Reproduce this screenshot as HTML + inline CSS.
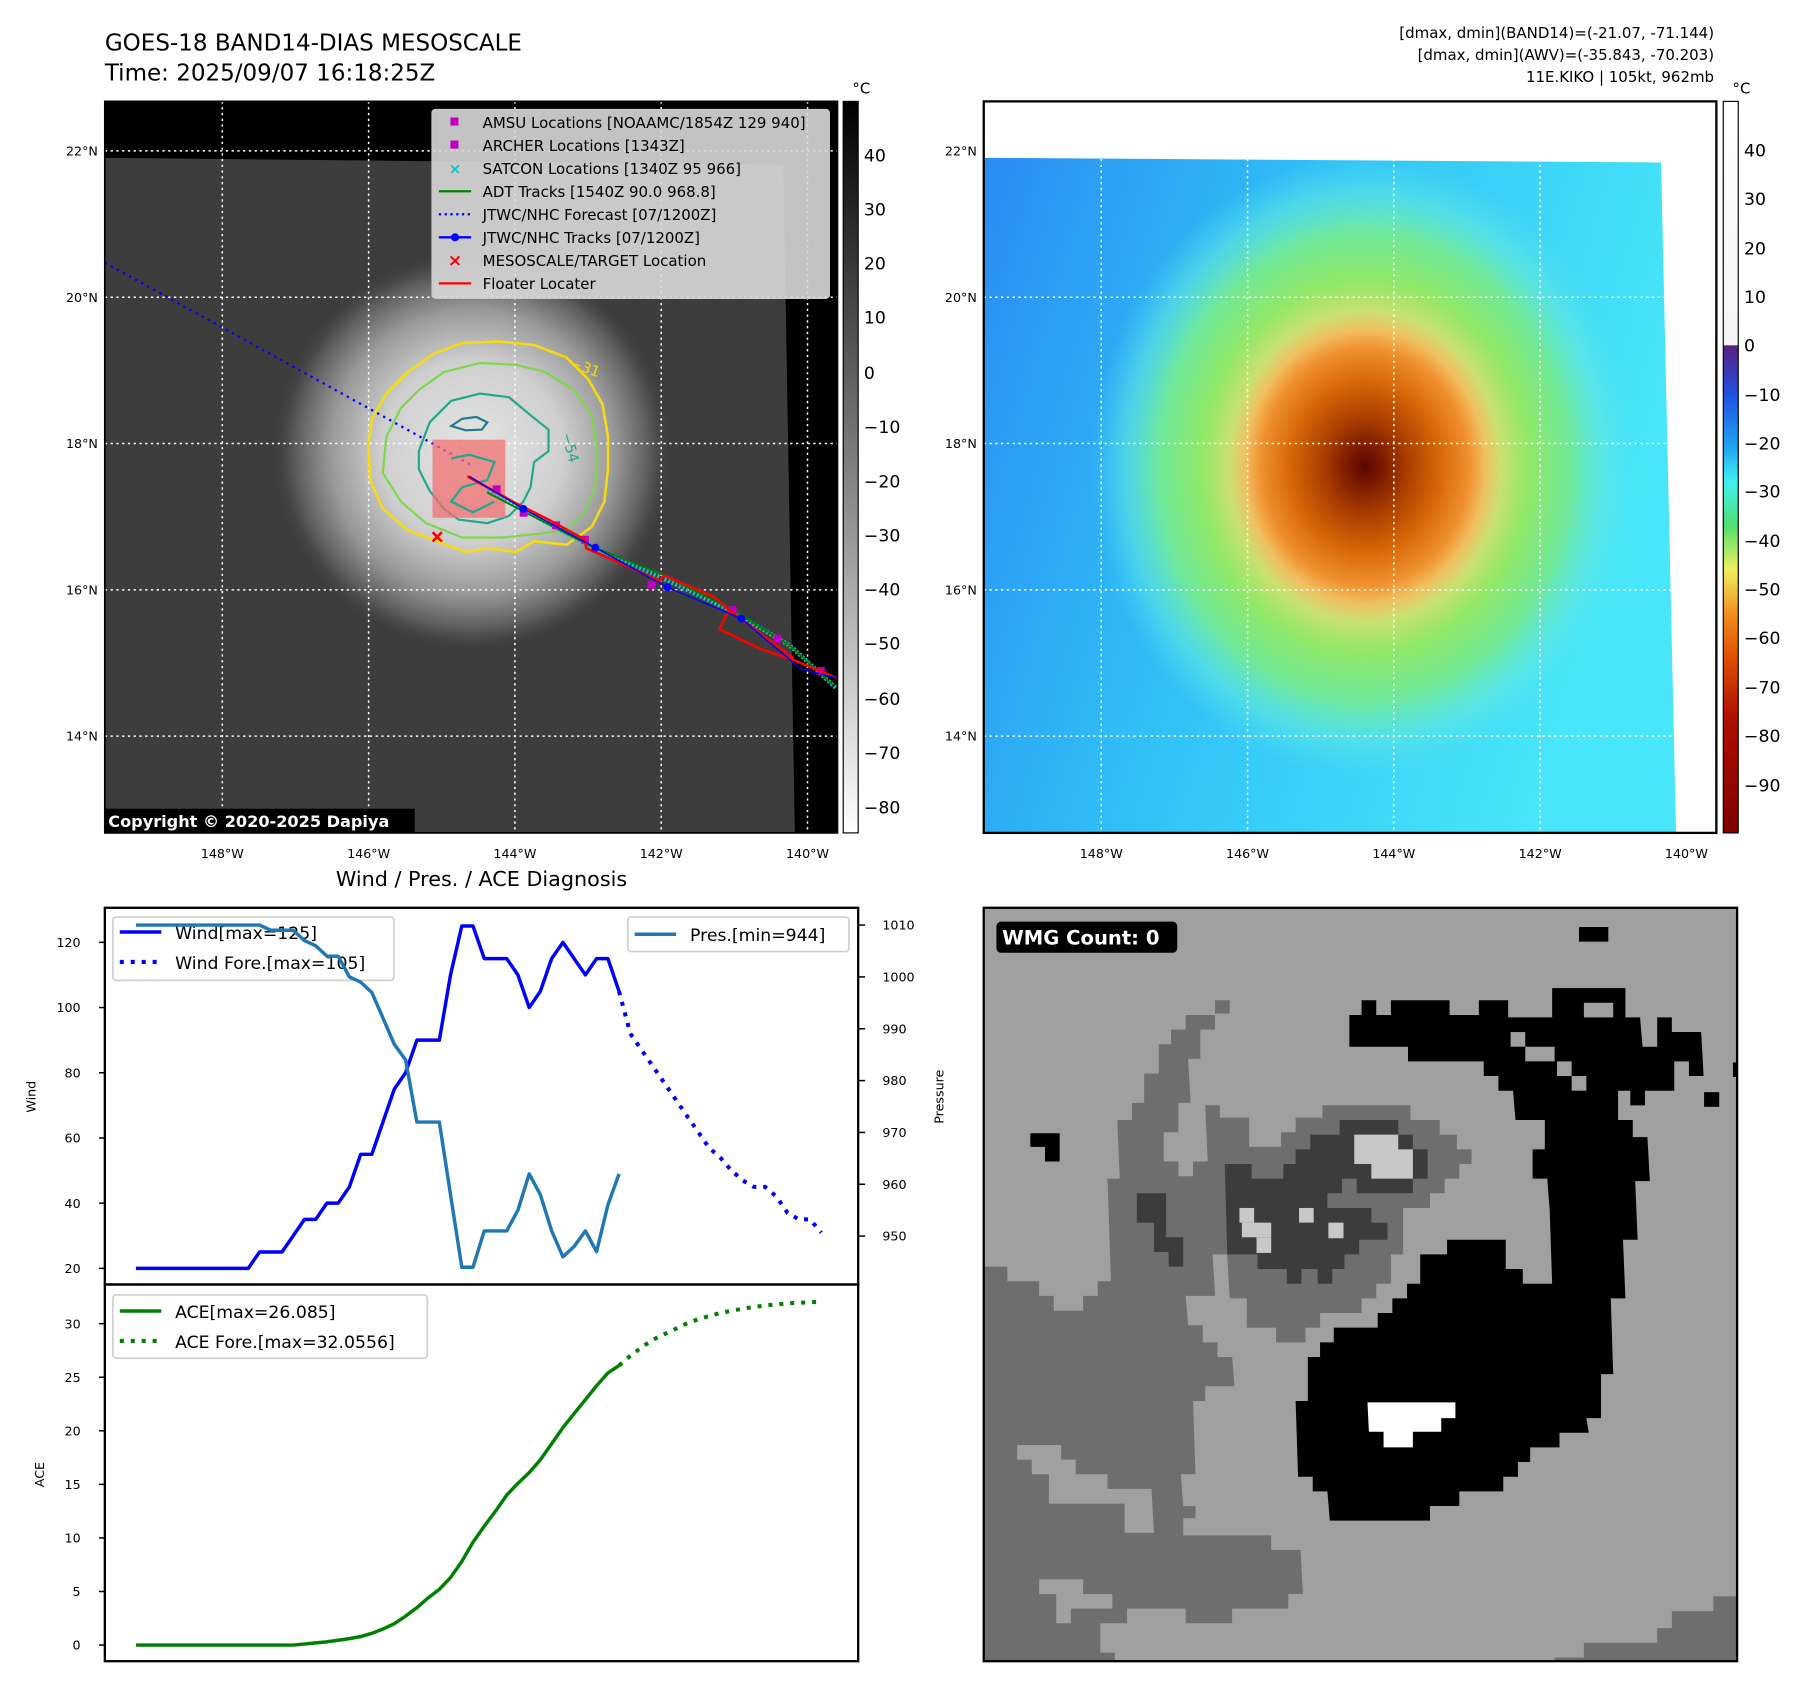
<!DOCTYPE html>
<html><head><meta charset="utf-8"><style>
html,body{margin:0;padding:0;background:#fff}
svg{display:block;font-family:"DejaVu Sans","Liberation Sans",sans-serif}
</style></head><body>
<svg id="root" width="1797" height="1690" viewBox="0 0 1560 1467" preserveAspectRatio="none">
<defs>
<radialGradient id="ircore" cx="410" cy="392" r="175" gradientUnits="userSpaceOnUse">
<stop offset="0" stop-color="#e6e6e6"/><stop offset="0.45" stop-color="#cfcfcf"/><stop offset="0.7" stop-color="#9a9a9a"/><stop offset="0.88" stop-color="#5c5c5c"/><stop offset="1" stop-color="#3d3d3d" stop-opacity="0"/>
</radialGradient>
<linearGradient id="awvbase" x1="0" y1="0" x2="1" y2="0.3">
<stop offset="0" stop-color="#2a8cf2"/><stop offset="0.45" stop-color="#30c0f6"/><stop offset="1" stop-color="#48e6f8"/>
</linearGradient>
<radialGradient id="awvcore" cx="1185" cy="405" r="250" gradientUnits="userSpaceOnUse" gradientTransform="translate(1185 405) scale(0.95 1.08) translate(-1185 -405)">
<stop offset="0" stop-color="#5a0800"/><stop offset="0.06" stop-color="#7a1800"/><stop offset="0.15" stop-color="#a83c00"/><stop offset="0.28" stop-color="#d86a08"/><stop offset="0.38" stop-color="#f09030"/><stop offset="0.44" stop-color="#f0c060"/><stop offset="0.5" stop-color="#c8e070"/><stop offset="0.6" stop-color="#90e868"/><stop offset="0.75" stop-color="#70e898"/><stop offset="0.88" stop-color="#60e8e0" stop-opacity="0.6"/><stop offset="1" stop-color="#50e0f0" stop-opacity="0"/>
</radialGradient>
<linearGradient id="cbleft" x1="0" y1="0" x2="0" y2="1"><stop offset="0" stop-color="#000"/><stop offset="1" stop-color="#fff"/></linearGradient>
<linearGradient id="cbright" x1="0" y1="0" x2="0" y2="1">
<stop offset="0" stop-color="#ffffff"/><stop offset="0.333" stop-color="#f4f4f4"/><stop offset="0.334" stop-color="#5a2080"/><stop offset="0.4" stop-color="#2050e0"/><stop offset="0.47" stop-color="#20a0f0"/><stop offset="0.52" stop-color="#40f0f0"/><stop offset="0.58" stop-color="#50e070"/><stop offset="0.64" stop-color="#f0f060"/><stop offset="0.7" stop-color="#f09020"/><stop offset="0.76" stop-color="#e05000"/><stop offset="0.84" stop-color="#b01000"/><stop offset="1" stop-color="#800000"/>
</linearGradient>
<clipPath id="wmgclip"><rect x="854" y="788" width="654" height="654"/></clipPath>
</defs>

<text x="91" y="44" font-size="20">GOES-18 BAND14-DIAS MESOSCALE</text>
<text x="91" y="70" font-size="20">Time: 2025/09/07 16:18:25Z</text>
<g font-size="13" text-anchor="end">
<text x="1488" y="33">[dmax, dmin](BAND14)=(-21.07, -71.144)</text>
<text x="1488" y="52">[dmax, dmin](AWV)=(-35.843, -70.203)</text>
<text x="1488" y="71">11E.KIKO | 105kt, 962mb</text>
</g>

<!-- LEFT MAP -->
<g>
<rect x="91" y="88" width="636" height="635" fill="#000"/>
<polygon points="91,137 680,143 690,723 91,723" fill="#3d3d3d"/>
<polygon points="91,137 680,143 690,723 91,723" fill="url(#ircore)"/>
<g stroke="#fff" stroke-width="1.3" stroke-dasharray="2 3">
<line x1="193" y1="88" x2="193" y2="723"/><line x1="320" y1="88" x2="320" y2="723"/><line x1="447" y1="88" x2="447" y2="723"/><line x1="574" y1="88" x2="574" y2="723"/><line x1="701" y1="88" x2="701" y2="723"/>
<line x1="91" y1="131" x2="727" y2="131"/><line x1="91" y1="258" x2="727" y2="258"/><line x1="91" y1="385" x2="727" y2="385"/><line x1="91" y1="512" x2="727" y2="512"/><line x1="91" y1="639" x2="727" y2="639"/>
</g>
<line x1="91" y1="228" x2="408" y2="403" stroke="#0000ff" stroke-width="2" stroke-dasharray="2 4"/>
<svg x="260.4" y="260.4" width="486" height="330" viewBox="0 0 1554 1056" preserveAspectRatio="none" overflow="visible">
<path d="M190,400 L200,330 240,260 300,200 370,150 450,120 550,115 650,125 740,160 800,220 840,290 855,380 855,470 845,560 810,630 740,680 650,670 600,700 520,690 460,700 380,670 300,640 230,580 195,500 Z" fill="none" stroke="#f5dc10" stroke-width="7"/>
<path d="M230,480 L240,380 280,300 330,250 400,200 500,175 600,180 680,200 760,250 810,320 825,420 820,520 790,590 740,640 660,650 560,660 450,660 350,620 280,560 Z" fill="none" stroke="#7fd64a" stroke-width="6"/>
<path d="M330,420 L360,340 420,280 500,260 580,270 640,320 690,360 690,420 650,450 640,520 620,560 580,600 520,620 440,610 400,580 360,530 330,470 Z" fill="none" stroke="#20a68a" stroke-width="6"/>
<path d="M420,350 L450,330 490,325 520,340 505,360 460,362 Z" fill="none" stroke="#1d7a8a" stroke-width="6"/>
<text x="690" y="360" font-size="40" fill="#20a68a" transform="rotate(75 700 390)">−54</text>
<text x="750" y="190" font-size="40" fill="#f5dc10" transform="rotate(20 760 180)">−31</text>
<rect x="368" y="388" width="202" height="217" fill="#f07070" fill-opacity="0.75"/>
<path d="M420,440 L470,430 540,450 520,500 450,520 420,560 480,590 540,560" fill="none" stroke="#20a68a" stroke-width="6"/>
<path d="M520,530 L800,680 1000,770 1200,865 1360,960 1490,1080" fill="none" stroke="#10c0c0" stroke-width="12" stroke-dasharray="6 5"/>
<path d="M520,535 L800,680 1000,760 1200,860 1360,960 1480,1070" fill="none" stroke="#008000" stroke-width="5"/>
<g fill="#c000c0">
<rect x="535" y="515" width="22" height="22"/><rect x="610" y="580" width="22" height="22"/><rect x="700" y="615" width="22" height="22"/><rect x="780" y="655" width="22" height="22"/><rect x="965" y="780" width="22" height="22"/><rect x="1190" y="850" width="22" height="22"/><rect x="1315" y="930" width="22" height="22"/><rect x="1435" y="1020" width="22" height="22"/>
</g>
<path d="M465,490 L600,565 690,610 790,665 795,690 1000,780 1010,765 1150,825 1190,860 1165,915 1280,970 1370,1000 1490,1050 M1190,860 L1370,995" fill="none" stroke="#ff0000" stroke-width="7"/>
<path d="M470,490 L620,580 820,688 1020,798 1225,885 1390,1025 1490,1050" fill="none" stroke="#0000ff" stroke-width="4"/>
<g fill="#0000ff"><circle cx="620" cy="580" r="11"/><circle cx="820" cy="688" r="11"/><circle cx="1020" cy="798" r="11"/><circle cx="1225" cy="885" r="11"/></g>
<path d="M368,645 L394,671 M394,645 L368,671" stroke="#ff0000" stroke-width="7"/>
</svg>
<g>
<rect x="375" y="95" width="345" height="164" rx="3" fill="#d8d8d8" fill-opacity="0.9" stroke="#c8c8c8"/>
<g font-size="13" fill="#000">
<rect x="391" y="102" width="7" height="7" fill="#c000c0"/><text x="419" y="111">AMSU Locations [NOAAMC/1854Z 129 940]</text>
<rect x="391" y="122" width="7" height="7" fill="#c000c0"/><text x="419" y="131">ARCHER Locations [1343Z]</text>
<text x="395" y="151" fill="#10c0c0" font-size="13" text-anchor="middle" font-weight="bold">×</text><text x="419" y="151">SATCON Locations [1340Z 95 966]</text>
<line x1="381" y1="166" x2="409" y2="166" stroke="#008000" stroke-width="2"/><text x="419" y="171">ADT Tracks [1540Z 90.0 968.8]</text>
<line x1="381" y1="186" x2="409" y2="186" stroke="#0000ff" stroke-width="2" stroke-dasharray="2 3"/><text x="419" y="191">JTWC/NHC Forecast [07/1200Z]</text>
<line x1="381" y1="206" x2="409" y2="206" stroke="#0000ff" stroke-width="2"/><circle cx="395" cy="206" r="3.5" fill="#0000ff"/><text x="419" y="211">JTWC/NHC Tracks [07/1200Z]</text>
<text x="395" y="231" fill="#ff0000" font-size="15" text-anchor="middle" font-weight="bold">×</text><text x="419" y="231">MESOSCALE/TARGET Location</text>
<line x1="381" y1="246" x2="409" y2="246" stroke="#ff0000" stroke-width="2"/><text x="419" y="251">Floater Locater</text>
</g></g>
<rect x="91" y="702" width="269" height="21" fill="#000"/>
<text x="94" y="718" font-size="14" font-weight="bold" fill="#fff">Copyright © 2020-2025 Dapiya</text>
<rect x="91" y="88" width="636" height="635" fill="none" stroke="#000" stroke-width="1.5"/>
</g>
<g font-size="11" text-anchor="end">
<text x="85" y="135">22°N</text><text x="85" y="262">20°N</text><text x="85" y="389">18°N</text><text x="85" y="516">16°N</text><text x="85" y="643">14°N</text>
</g>
<g font-size="11" text-anchor="middle">
<text x="193" y="745">148°W</text><text x="320" y="745">146°W</text><text x="447" y="745">144°W</text><text x="574" y="745">142°W</text><text x="701" y="745">140°W</text>
</g>
<g>
<rect x="732" y="88" width="13" height="635" fill="url(#cbleft)" stroke="#000" stroke-width="1"/>
<text x="740" y="81" font-size="13">°C</text>
<g font-size="15"><text x="750" y="140">40</text><text x="750" y="187">30</text><text x="750" y="234">20</text><text x="750" y="281">10</text><text x="750" y="329">0</text><text x="750" y="376">−10</text><text x="750" y="423">−20</text><text x="750" y="470">−30</text><text x="750" y="517">−40</text><text x="750" y="564">−50</text><text x="750" y="612">−60</text><text x="750" y="659">−70</text><text x="750" y="706">−80</text></g>
</g>

<!-- RIGHT MAP -->
<g>
<rect x="854" y="88" width="636" height="635" fill="#fff"/>
<polygon points="854,137 1442,141 1455,723 854,723" fill="url(#awvbase)"/>
<polygon points="854,137 1442,141 1455,723 854,723" fill="url(#awvcore)"/>
<g stroke="#fff" stroke-width="1.3" stroke-dasharray="2 3">
<line x1="956" y1="88" x2="956" y2="723"/><line x1="1083" y1="88" x2="1083" y2="723"/><line x1="1210" y1="88" x2="1210" y2="723"/><line x1="1337" y1="88" x2="1337" y2="723"/><line x1="1464" y1="88" x2="1464" y2="723"/>
<line x1="854" y1="131" x2="1490" y2="131"/><line x1="854" y1="258" x2="1490" y2="258"/><line x1="854" y1="385" x2="1490" y2="385"/><line x1="854" y1="512" x2="1490" y2="512"/><line x1="854" y1="639" x2="1490" y2="639"/>
</g>
<rect x="854" y="88" width="636" height="635" fill="none" stroke="#000" stroke-width="2"/>
</g>
<g font-size="11" text-anchor="end">
<text x="848" y="135">22°N</text><text x="848" y="262">20°N</text><text x="848" y="389">18°N</text><text x="848" y="516">16°N</text><text x="848" y="643">14°N</text>
</g>
<g font-size="11" text-anchor="middle">
<text x="956" y="745">148°W</text><text x="1083" y="745">146°W</text><text x="1210" y="745">144°W</text><text x="1337" y="745">142°W</text><text x="1464" y="745">140°W</text>
</g>
<g>
<rect x="1496" y="88" width="13" height="635" fill="url(#cbright)" stroke="#000" stroke-width="1"/>
<text x="1504" y="81" font-size="13">°C</text>
<g font-size="15"><text x="1514" y="136">40</text><text x="1514" y="178">30</text><text x="1514" y="221">20</text><text x="1514" y="263">10</text><text x="1514" y="305">0</text><text x="1514" y="348">−10</text><text x="1514" y="390">−20</text><text x="1514" y="432">−30</text><text x="1514" y="475">−40</text><text x="1514" y="517">−50</text><text x="1514" y="559">−60</text><text x="1514" y="602">−70</text><text x="1514" y="644">−80</text><text x="1514" y="687">−90</text></g>
</g>

<!-- WMG PANEL -->
<g clip-path="url(#wmgclip)">
<svg x="853.3" y="785.6" width="657" height="657" viewBox="0 0 1549 1549" preserveAspectRatio="none">
<rect width="1549" height="1549" fill="#a0a0a0"/>
<polygon fill="#6e6e6e" points="0,740 50,740 50,770 115,770 115,800 145,800 145,830 205,830 205,800 235,800 235,770 262,770 255,560 280,560 275,440 305,440 305,405 330,405 330,345 360,345 360,285 385,285 385,255 415,255 415,225 475,225 475,195 505,195 505,222 475,222 475,255 445,255 445,315 420,315 425,405 400,405 400,465 370,465 370,525 400,525 400,555 430,555 430,525 460,525 455,410 485,410 485,435 545,435 545,495 610,495 610,465 640,465 640,435 695,435 695,410 875,410 875,440 935,440 935,470 970,470 970,500 1000,500 1000,530 975,530 975,560 945,560 945,590 915,590 915,620 860,620 860,715 835,715 835,775 805,775 805,805 775,805 775,835 690,835 690,865 660,865 660,895 600,895 600,865 540,865 540,805 505,805 500,715 470,715 475,800 415,800 420,860 450,860 450,895 480,895 480,925 510,925 515,985 455,985 455,1015 430,1015 435,1165 405,1165 410,1230 435,1230 435,1255 410,1255 410,1290 590,1290 590,1320 650,1320 655,1410 625,1410 625,1440 510,1440 510,1470 415,1470 415,1440 295,1440 295,1470 240,1470 240,1530 270,1530 270,1549 0,1549"/>
<polygon fill="#a0a0a0" points="45,1135 70,1135 70,1105 160,1105 160,1135 190,1135 190,1165 255,1165 255,1195 345,1195 350,1285 290,1285 290,1225 135,1225 135,1165 100,1165 100,1135"/>
<polygon fill="#a0a0a0" points="115,1380 205,1380 205,1410 265,1410 265,1440 180,1440 180,1470 150,1470 150,1410 115,1410"/>
<polygon fill="#6e6e6e" points="1170,1549 1170,1540 1230,1540 1230,1510 1380,1510 1380,1480 1410,1480 1410,1445 1495,1445 1495,1415 1549,1415 1549,1549"/>
<polygon fill="#3c3c3c" points="495,530 550,530 550,560 615,560 615,530 640,530 640,500 670,500 670,470 730,470 730,440 850,440 850,470 880,470 880,500 910,500 910,560 880,560 880,590 765,590 765,560 735,560 735,590 705,590 705,620 795,620 795,650 828,650 828,685 770,685 770,715 740,715 740,745 715,745 715,775 685,775 685,745 652,745 652,775 622,775 622,745 562,745 562,715 500,715"/>
<polygon fill="#3c3c3c" points="315,590 375,590 375,680 410,680 410,740 380,740 380,710 350,710 350,650 315,650"/>
<polygon fill="#c8c8c8" points="760,470 850,470 850,500 880,500 880,560 795,560 795,530 760,530"/>
<g fill="#c8c8c8"><rect x="525" y="620" width="30" height="30"/><rect x="530" y="650" width="60" height="30"/><rect x="560" y="680" width="30" height="32"/><rect x="647" y="620" width="30" height="30"/><rect x="707" y="650" width="31" height="32"/></g>
<polygon fill="#000" points="640,1015 665,1015 665,925 690,925 690,895 718,895 718,865 808,865 808,835 838,835 838,805 868,805 868,775 895,775 895,715 950,715 950,685 1070,685 1070,745 1105,745 1105,775 1165,775 1160,625 1155,560 1125,560 1125,500 1150,500 1150,440 1090,440 1085,380 1055,380 1055,350 1025,350 1025,320 870,320 870,290 750,290 750,225 775,225 775,195 805,195 805,225 835,225 835,195 955,195 955,225 1015,225 1015,195 1075,195 1075,230 1165,230 1165,170 1315,170 1315,230 1345,230 1350,290 1380,290 1380,230 1410,230 1410,260 1470,260 1475,350 1445,350 1445,320 1415,320 1415,380 1355,380 1355,410 1325,410 1325,380 1300,380 1300,440 1330,440 1330,475 1360,475 1365,565 1335,565 1340,685 1310,685 1315,805 1285,805 1290,960 1265,960 1265,1050 1235,1050 1240,1080 1180,1080 1180,1110 1120,1110 1120,1140 1095,1140 1095,1170 1065,1170 1065,1200 975,1200 975,1230 915,1230 915,1260 710,1260 705,1200 675,1200 675,1170 645,1170"/>
<g fill="#a0a0a0"><rect x="1080" y="260" width="30" height="30"/><rect x="1110" y="290" width="60" height="30"/><rect x="1175" y="320" width="30" height="30"/><rect x="1205" y="350" width="30" height="30"/><rect x="1230" y="200" width="60" height="30"/></g>
<g fill="#000"><rect x="1220" y="45" width="60" height="30"/><polygon points="97,467 157,467 157,525 127,525 127,495 97,495"/><rect x="1476" y="383" width="31" height="30"/><rect x="1535" y="322" width="14" height="30"/></g>
<polygon fill="#fff" points="787,1018 967,1018 967,1050 938,1050 938,1078 880,1078 880,1110 820,1110 820,1078 790,1078"/>
</svg>
</g>
<rect x="854" y="788" width="654" height="654" fill="none" stroke="#000" stroke-width="2"/>
<rect x="865" y="800" width="157" height="27" rx="4" fill="#000"/>
<text x="870" y="820" font-size="17" font-weight="bold" fill="#fff">WMG Count: 0</text>

<!-- DIAGNOSIS CHART -->
<text x="418" y="769" font-size="18" text-anchor="middle">Wind / Pres. / ACE Diagnosis</text>
<g id="chart"></g>
</svg>
<script>
const windIdx = [0,1,2,3,4,5,6,7,8,9,10,11,12,13,14,15,16,17,18,19,20,21,22,23,24,25,26,27,28,29,30,31,32,33,34,35,36,37,38,39,40,41,42,43];
const windVals = [20,20,20,20,20,20,20,20,20,20,20,25,25,25,30,35,35,40,40,45,55,55,65,75,80,90,90,90,110,125,125,115,115,115,110,100,105,115,120,115,110,115,115,105];
const presVals = [1010,1010,1010,1010,1010,1010,1010,1010,1010,1010,1010,1010,1009,1009,1009,1007,1006,1004,1004,1000,999,997,992,987,984,972,972,972,958,944,944,951,951,951,955,962,958,951,946,948,951,947,956,962];
const aceVals = [0,0,0,0,0,0,0,0,0,0,0,0,0,0,0,0.1,0.2,0.3,0.45,0.6,0.8,1.1,1.5,2.0,2.7,3.5,4.4,5.2,6.3,7.8,9.6,11.1,12.5,14.0,15.1,16.1,17.3,18.8,20.3,21.6,22.9,24.2,25.4,26.085];
const foreIdx = [43,44,45,46,47,48,49,50,51,52,53,54,55,56,57,58,59,60,61];
const windFore = [105,92,87,82,77,72,67,62,57,54,50,47,45,45,42,37,35,35,31];
const aceFore = [26.085,27.0,27.8,28.5,29.0,29.5,30.0,30.4,30.7,31.0,31.2,31.4,31.55,31.7,31.8,31.9,31.95,32.0,32.0556];
const windTicks = [20,40,60,80,100,120];
const presTicks = [950,960,970,980,990,1000,1010];
const aceTicks = [0,5,10,15,20,25,30];

const NS = 'http://www.w3.org/2000/svg';
const chart = document.getElementById('chart');
function X(i){ return 118 + i * 9.754; }
function YW(v){ return 1101 - (v - 20) * 2.83; }
function YP(p){ return 803 + (1010 - p) * 4.5; }
function YA(a){ return 1428 - a * 9.3; }
function mk(tag, attrs){ const e = document.createElementNS(NS, tag); for (const k in attrs) e.setAttribute(k, attrs[k]); chart.appendChild(e); return e; }
function pathD(xs, ys, fy){ return xs.map((x, k) => (k ? 'L' : 'M') + X(x).toFixed(1) + ',' + fy(ys[k]).toFixed(1)).join(' '); }
function txt(x, y, s, size, anchor){ const t = mk('text', {x: x, y: y, 'font-size': size, 'text-anchor': anchor || 'start'}); t.textContent = s; return t; }

let f1 = mk('rect', {x: 91, y: 788, width: 654, height: 327, fill: 'none', stroke: '#000', 'stroke-width': 2});


let f2 = mk('rect', {x: 91, y: 1115, width: 654, height: 327, fill: 'none', stroke: '#000', 'stroke-width': 2});



windTicks.forEach(v => {
  const l = mk('line', {x1: 86, x2: 91, y1: YW(v), y2: YW(v), stroke: '#000', 'stroke-width': 1.3});
  
  
  const t = txt(70, YW(v) + 4, String(v), 11, 'end');
  
  
});
presTicks.forEach(v => {
  const l = mk('line', {x1: 745, x2: 751, y1: YP(v), y2: YP(v), stroke: '#000', 'stroke-width': 1.3});
  
  
  const t = txt(766, YP(v) + 4, String(v), 11, 'start');
  
  
});
aceTicks.forEach(v => {
  const l = mk('line', {x1: 86, x2: 91, y1: YA(v), y2: YA(v), stroke: '#000', 'stroke-width': 1.3});
  
  
  const t = txt(70, YA(v) + 4, String(v), 11, 'end');
  
  
});
let yl1 = txt(0, 0, 'Wind', 11, 'middle'); yl1.setAttribute('transform', 'translate(31 952) rotate(-90)');


let yl2 = txt(0, 0, 'Pressure', 11, 'middle'); yl2.setAttribute('transform', 'translate(819 952) rotate(-90)');


let yl3 = txt(0, 0, 'ACE', 11, 'middle'); yl3.setAttribute('transform', 'translate(38 1280) rotate(-90)');



let wl = mk('path', {d: pathD(windIdx, windVals, YW), fill: 'none', stroke: '#0000ff', 'stroke-width': 3, 'stroke-linejoin': 'round'});


let wf = mk('path', {d: pathD(foreIdx, windFore, YW), fill: 'none', stroke: '#0000ff', 'stroke-width': 3.5, 'stroke-dasharray': '3.5 6'});



let wlg = mk('rect', {x: 98, y: 796, width: 244, height: 55, rx: 3, fill: '#fff', 'fill-opacity': 0.8, stroke: '#d0d0d0', 'stroke-width': 1.5});


mk('line', {x1: 104, x2: 140, y1: 809, y2: 809, stroke: '#0000ff', 'stroke-width': 3});
txt(152, 815, 'Wind[max=125]', 15);
mk('line', {x1: 104, x2: 140, y1: 835, y2: 835, stroke: '#0000ff', 'stroke-width': 3.5, 'stroke-dasharray': '3.5 6'});
txt(152, 841, 'Wind Fore.[max=105]', 15);

let pl = mk('path', {d: pathD(windIdx, presVals, YP), fill: 'none', stroke: '#1f77b4', 'stroke-width': 3, 'stroke-linejoin': 'round'});


let plg = mk('rect', {x: 545, y: 796, width: 192, height: 30, rx: 3, fill: '#fff', 'fill-opacity': 0.8, stroke: '#d0d0d0', 'stroke-width': 1.5});


mk('line', {x1: 551, x2: 587, y1: 811, y2: 811, stroke: '#1f77b4', 'stroke-width': 3});
txt(599, 817, 'Pres.[min=944]', 15);

let al = mk('path', {d: pathD(windIdx, aceVals, YA), fill: 'none', stroke: '#008000', 'stroke-width': 3, 'stroke-linejoin': 'round'});


let af = mk('path', {d: pathD(foreIdx, aceFore, YA), fill: 'none', stroke: '#008000', 'stroke-width': 3.5, 'stroke-dasharray': '3.5 6'});


let alg = mk('rect', {x: 98, y: 1124, width: 273, height: 55, rx: 3, fill: '#fff', 'fill-opacity': 0.8, stroke: '#d0d0d0', 'stroke-width': 1.5});


mk('line', {x1: 104, x2: 140, y1: 1138, y2: 1138, stroke: '#008000', 'stroke-width': 3});
txt(152, 1144, 'ACE[max=26.085]', 15);
mk('line', {x1: 104, x2: 140, y1: 1164, y2: 1164, stroke: '#008000', 'stroke-width': 3.5, 'stroke-dasharray': '3.5 6'});
txt(152, 1170, 'ACE Fore.[max=32.0556]', 15);
</script>
</body></html>
